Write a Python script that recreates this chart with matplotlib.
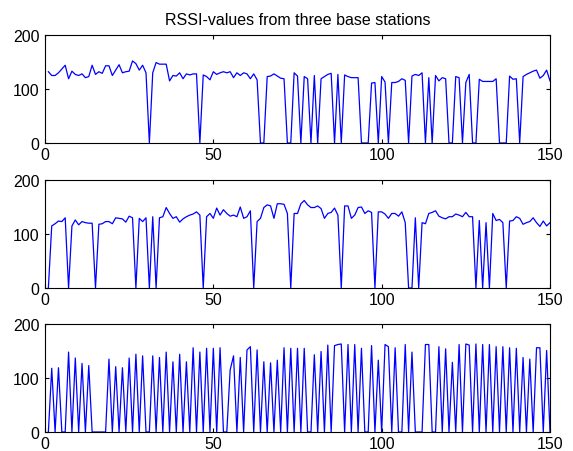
import numpy as np
import matplotlib
matplotlib.use("Agg")
import matplotlib.pyplot as plt

plt.rcParams['font.family'] = ['Liberation Sans', 'DejaVu Sans']

title = "RSSI-values from three base stations"
xticks = [0, 50, 100, 150]
yticks = [0, 100, 200]

station1 = [132, 125, 125, 130, 137, 144, 119, 133, 127, 125, 128, 121, 123, 144, 127, 132, 129, 143, 143, 125,
            135, 145, 130, 132, 133, 152, 147, 135, 144, 130, 0, 130, 149, 146, 146, 146, 115, 125, 124, 130,
            119, 128, 126, 128, 128, 0, 126, 123, 117, 132, 127, 130, 132, 130, 132, 121, 130, 125, 130, 128,
            119, 128, 117, 0, 0, 123, 124, 128, 124, 120, 119, 0, 0, 130, 124, 0, 123, 119, 0, 125,
            0, 119, 123, 127, 129, 0, 127, 0, 126, 123, 121, 121, 121, 0, 0, 0, 111, 112, 0, 123,
            113, 0, 112, 112, 114, 119, 116, 0, 124, 127, 125, 130, 0, 121, 0, 125, 115, 121, 119, 0,
            0, 123, 121, 0, 112, 127, 0, 0, 118, 114, 114, 114, 114, 119, 0, 0, 0, 124, 118, 119,
            0, 123, 127, 130, 133, 135, 120, 125, 135, 115]

station2 = [0, 115, 119, 124, 123, 130, 0, 115, 126, 117, 123, 121, 120, 120, 0, 118, 119, 123, 123, 119,
            130, 129, 128, 122, 133, 130, 0, 129, 123, 130, 0, 132, 0, 130, 132, 149, 138, 129, 132, 122,
            128, 132, 135, 137, 141, 135, 0, 132, 138, 129, 148, 135, 145, 138, 133, 135, 132, 150, 129, 132,
            143, 0, 123, 129, 149, 154, 152, 129, 156, 156, 155, 138, 0, 138, 138, 156, 162, 154, 149, 149,
            152, 147, 129, 138, 140, 148, 135, 0, 152, 152, 129, 135, 149, 150, 138, 143, 140, 0, 141, 141,
            137, 129, 138, 138, 133, 141, 121, 0, 0, 130, 0, 121, 119, 138, 140, 143, 133, 130, 128, 132,
            132, 137, 135, 132, 140, 132, 132, 0, 125, 0, 121, 0, 138, 125, 127, 121, 0, 124, 125, 132,
            129, 118, 121, 123, 130, 121, 114, 124, 115, 121]

station3 = [0, 118, 0, 119, 0, 0, 148, 0, 137, 0, 127, 0, 123, 0, 0, 0, 0, 0, 135, 0,
            121, 0, 119, 0, 137, 0, 144, 0, 141, 0, 0, 141, 0, 138, 0, 148, 0, 130, 0, 144,
            0, 130, 0, 156, 0, 148, 0, 155, 0, 155, 0, 156, 0, 0, 115, 141, 0, 138, 0, 152,
            158, 0, 152, 0, 130, 0, 128, 0, 133, 0, 156, 0, 155, 0, 155, 0, 155, 0, 0, 143,
            0, 149, 0, 161, 0, 160, 162, 163, 0, 162, 0, 162, 0, 155, 0, 0, 160, 0, 133, 0,
            162, 158, 0, 156, 0, 0, 162, 0, 148, 0, 0, 0, 162, 162, 0, 0, 158, 0, 154, 0,
            129, 0, 162, 0, 163, 161, 0, 163, 0, 162, 0, 162, 0, 158, 0, 158, 0, 156, 0, 155,
            0, 138, 0, 135, 0, 156, 156, 0, 151, 0]

series = [station1, station2, station3]

W, H = 573, 452
fig = plt.figure(figsize=(W / 100, H / 100), dpi=100)
fig.patch.set_facecolor('white')

tops = [36, 181, 325]
left, right = 45, 550
ah = 108

for i, (top, data) in enumerate(zip(tops, series)):
    ax = fig.add_axes([left / W, 1 - (top + ah) / H, (right - left) / W, ah / H])
    x = np.arange(1, len(data) + 1)
    ax.plot(x, data, color='#0000ff', linewidth=0.9)
    ax.set_xlim(0, 150)
    ax.set_ylim(0, 200)
    ax.set_xticks(xticks)
    ax.set_yticks(yticks)
    ax.tick_params(direction='in', top=True, right=True, length=3, width=0.8,
                   labelsize=11.5, colors='black')
    ax.tick_params(axis='x', pad=3)
    ax.tick_params(axis='y', pad=4)
    for s in ax.spines.values():
        s.set_linewidth(0.8)
        s.set_color('black')
    if i == 0:
        ax.set_title(title, fontsize=11.5, pad=8)

fig.savefig('out.png', dpi=100, facecolor='white')
